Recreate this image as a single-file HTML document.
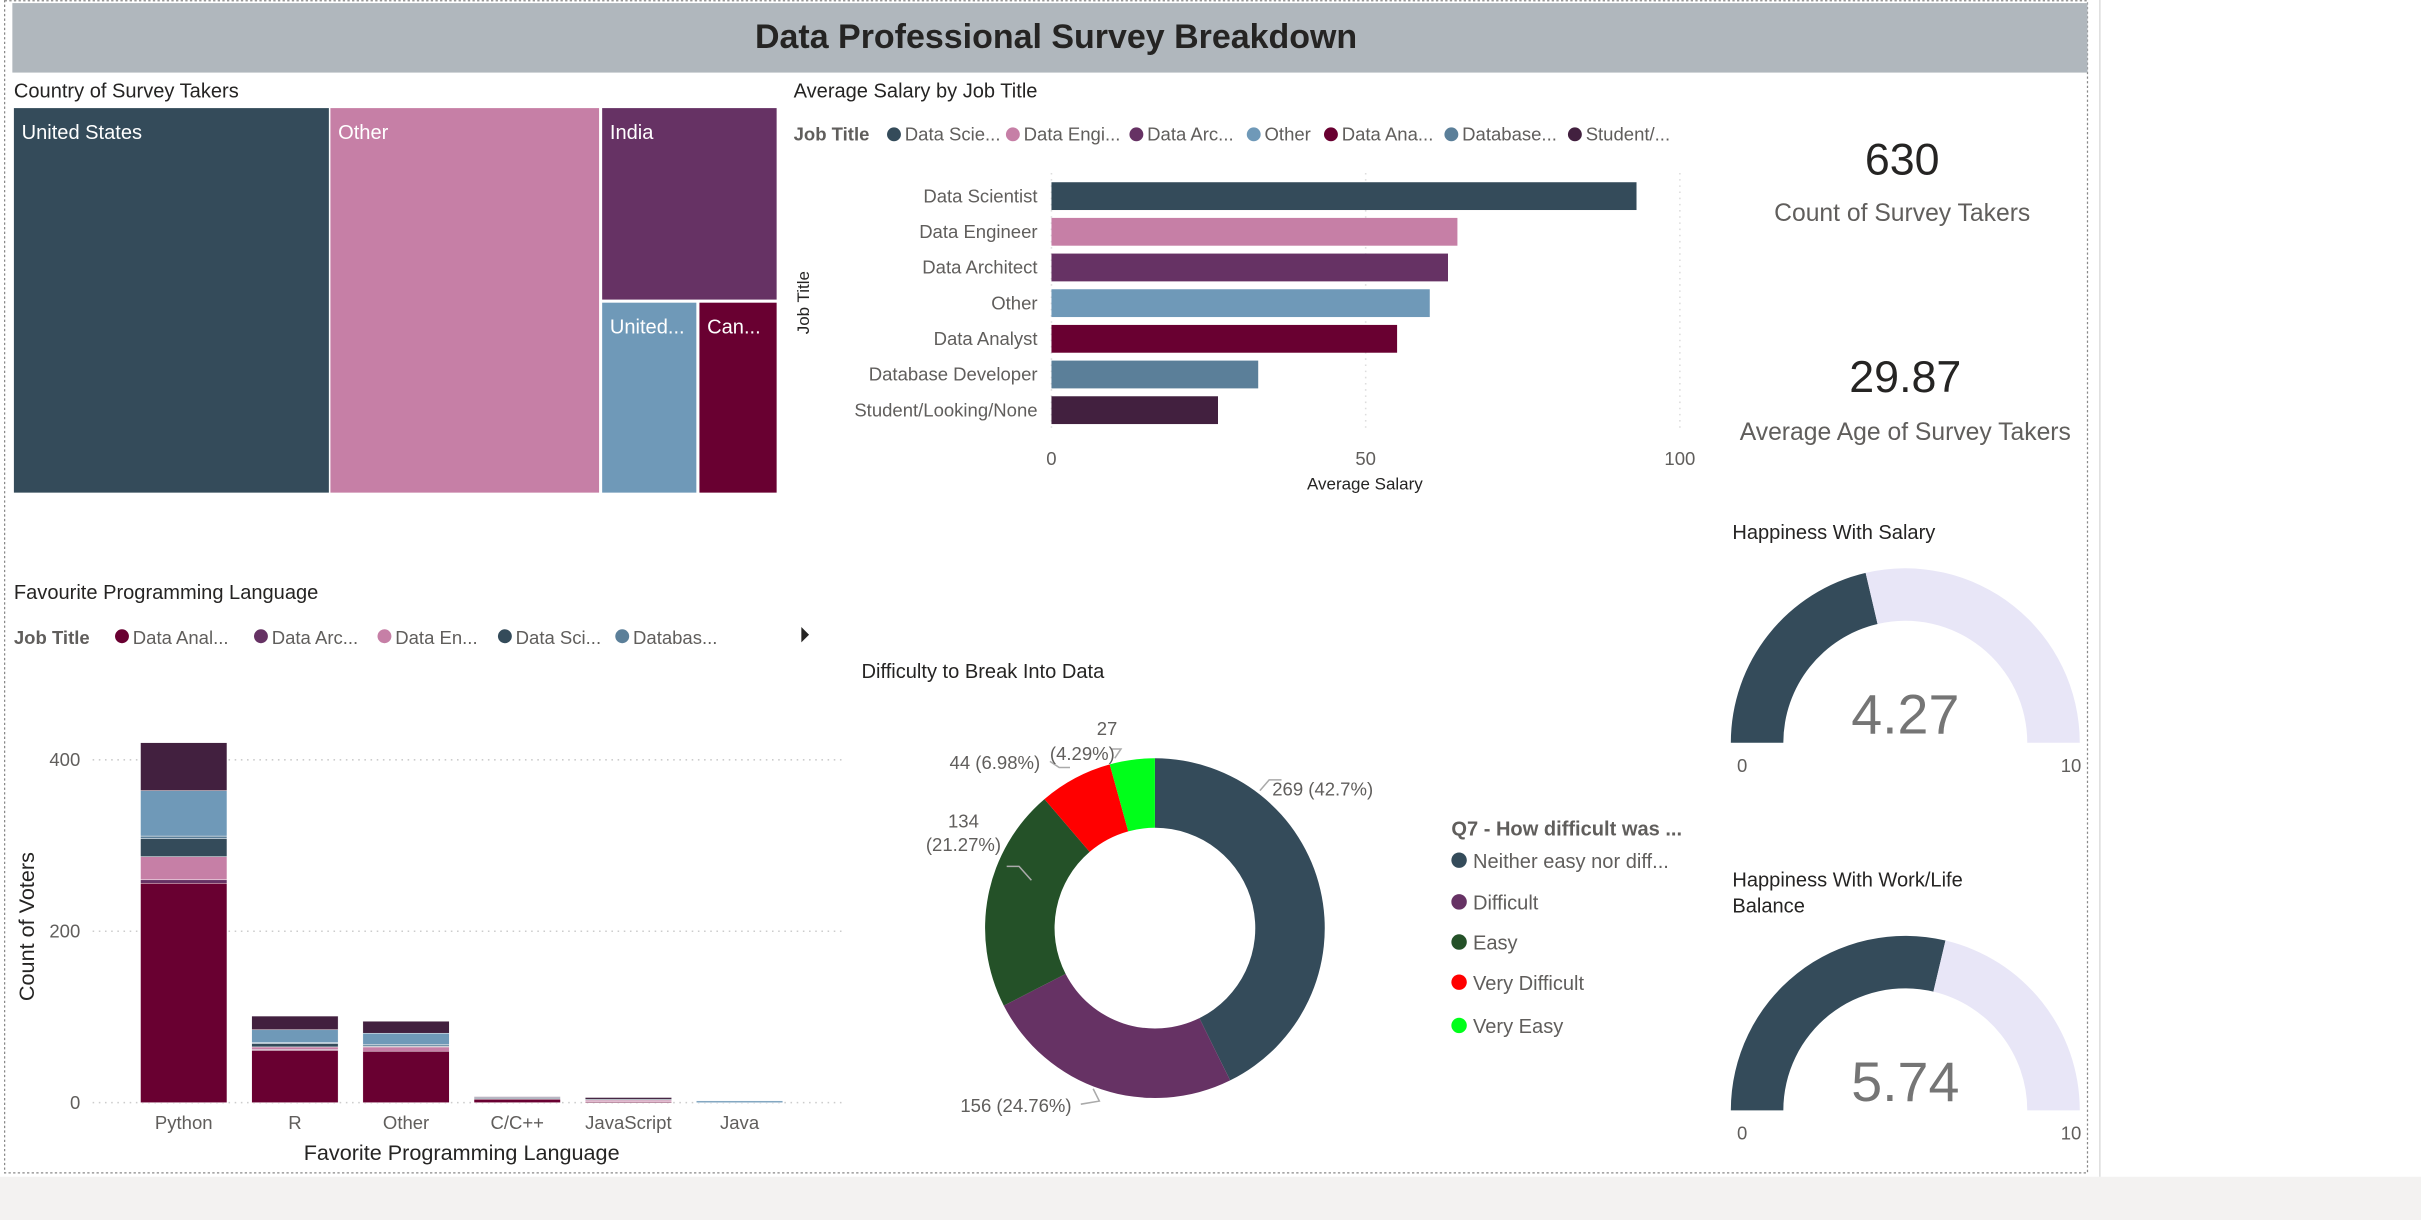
<!DOCTYPE html>
<html><head><meta charset="utf-8"><style>
html,body{margin:0;padding:0;background:#fff;width:2421px;height:1220px;overflow:hidden}
svg{display:block;font-family:"Liberation Sans",sans-serif}
</style></head><body>
<svg id="root" width="2421" height="1220" viewBox="0 0 1568 790" preserveAspectRatio="none" xmlns="http://www.w3.org/2000/svg">
<rect x="0" y="762" width="1568" height="28" fill="#f3f2f1"/>
<rect x="3" y="0.5" width="1349" height="759" fill="none" stroke="#888" stroke-width="0.8" stroke-dasharray="1.5,1.5"/>
<line x1="1360" y1="0" x2="1360" y2="762" stroke="#ddd" stroke-width="1"/>
<rect x="8" y="2" width="1344" height="45" fill="#b0b7bd"/>
<text x="684" y="31" text-anchor="middle" font-size="22" font-weight="bold" fill="#252423">Data Professional Survey Breakdown</text>

<text x="9" y="63" font-size="13" fill="#252423">Country of Survey Takers</text>
<g id="treemap"></g>

<text x="514" y="63" font-size="13" fill="#252423">Average Salary by Job Title</text>
<g id="salary"></g>

<g>
<text x="1232" y="113" text-anchor="middle" font-size="29" fill="#252423">630</text>
<text x="1232" y="143" text-anchor="middle" font-size="16" fill="#605e5c">Count of Survey Takers</text>
</g>
<g>
<text x="1234" y="254" text-anchor="middle" font-size="29" fill="#252423">29.87</text>
<text x="1234" y="285" text-anchor="middle" font-size="16" fill="#605e5c">Average Age of Survey Takers</text>
</g>

<text x="1122" y="349" font-size="13" fill="#252423">Happiness With Salary</text>
<g id="g1"></g>
<text x="1122" y="574" font-size="13" fill="#252423"><tspan x="1122">Happiness With Work/Life</tspan><tspan x="1122" dy="17">Balance</tspan></text>
<g id="g2"></g>

<text x="9" y="388" font-size="13" fill="#252423">Favourite Programming Language</text>
<g id="lang"></g>

<text x="558" y="439" font-size="13" fill="#252423">Difficulty to Break Into Data</text>
<g id="donut"></g>
</svg>
<script>
// ---- data ----
const countries=["United States","Other","India","United...","Can..."];
const salaryJobs=["Data Scientist","Data Engineer","Data Architect","Other","Data Analyst","Database Developer","Student/Looking/None"];
const salaryValues=[93.1,64.6,63.1,60.2,55.0,32.9,26.5];
const salaryTicks=[0,50,100];
const langCats=["Python","R","Other","C/C++","JavaScript","Java"];
const langSeries=["Data Analyst","Data Architect","Data Engineer","Data Scientist","Database Developer","Other","Student/Looking/None"];
const langAnalyst=[256,61,60,4,1,0];
const langArchitect=[4,1,0,0,0,0];
const langEngineer=[27,3,5,0,2,0];
const langScientist=[21,4,1,1,1,0];
const langDbDev=[3,1,2,0,0,0];
const langOther=[53,15,13,1,0,2];
const langStudent=[56,16,14,1,2,0];
const langTicks=[0,200,400];
const diffLabels=["Neither easy nor difficult","Difficult","Easy","Very Difficult","Very Easy"];
const diffValues=[269,156,134,44,27];
const gaugeValues=[4.27,5.74];

const NS="http://www.w3.org/2000/svg";
function mk(p,tag,at,txt){const e=document.createElementNS(NS,tag);for(const k in at)e.setAttribute(k,at[k]);if(txt!=null)e.textContent=txt;p.appendChild(e);return e;}
const jobColors={"Data Scientist":"#344b5a","Data Engineer":"#c67fa6","Data Architect":"#663264","Other":"#6f99b8","Data Analyst":"#690031","Database Developer":"#5b7f99","Student/Looking/None":"#42203f"};

// ---- treemap (fixed layout rectangles) ----
(function(){
 const g=document.getElementById('treemap');
 const rects=[[9,70,204,249,"#344b5a"],[214,70,174,249,"#c67fa6"],[390,70,113,124,"#663264"],[390,196,61,123,"#6f99b8"],[453,196,50,123,"#690031"]];
 rects.forEach((r,i)=>{
  const e=mk(g,'rect',{x:r[0],y:r[1],width:r[2],height:r[3],fill:r[4]});
  
  
  const t=mk(g,'text',{x:r[0]+5,y:r[1]+20,'font-size':13,fill:'#fff'},countries[i]);
  
  
 });
})();

// ---- salary bar chart ----
(function(){
 const g=document.getElementById('salary');
 const x0=681,x1=1088,xs=v=>x0+(v-0)/(100-0)*(x1-x0);
 const legend=[["Data Scie...","Data Scientist"],["Data Engi...","Data Engineer"],["Data Arc...","Data Architect"],["Other","Other"],["Data Ana...","Data Analyst"],["Database...","Database Developer"],["Student/...","Student/Looking/None"]];
 const lt=mk(g,'text',{x:514,y:91,'font-size':12,'font-weight':'bold',fill:'#605e5c'},'Job Title');
 
 
 let lx=575;
 const widths=[77,80,76,50,78,80,70];
 legend.forEach((l,i)=>{
  const c=mk(g,'circle',{cx:lx+4,cy:87,r:4.5,fill:jobColors[l[1]]});
  
  
  const t=mk(g,'text',{x:lx+11,y:91,'font-size':12,fill:'#605e5c'},l[0]);
  
  
  lx+=widths[i];
 });
 salaryTicks.forEach(v=>{
  const ln=mk(g,'line',{x1:xs(v),x2:xs(v),y1:112,y2:280,stroke:'#ddd','stroke-dasharray':'1,3'});
  
  
  const t=mk(g,'text',{x:xs(v),y:301,'text-anchor':'middle','font-size':12,fill:'#605e5c'},String(v));
  
  
 });
 salaryJobs.forEach((j,i)=>{
  const cy=127+i*23.1;
  const b=mk(g,'rect',{x:x0,y:cy-9,width:xs(salaryValues[i])-x0,height:18,fill:jobColors[j]});
  
  
  const t=mk(g,'text',{x:672,y:cy+4,'text-anchor':'end','font-size':12,fill:'#605e5c'},j);
  
  
 });
 const xt=mk(g,'text',{x:884,y:317,'text-anchor':'middle','font-size':11,fill:'#252423'},'Average Salary');
 
 
 const yt=mk(g,'text',{x:0,y:0,'font-size':11,fill:'#252423','text-anchor':'middle',transform:'translate(524,196) rotate(-90)'},'Job Title');
 
 
})();

// ---- gauges ----
function gauge(id,val,cy){
 const g=document.getElementById(id);
 const cx=1234,R=113,r=79;
 function arc(a0,a1,col,nm){
  const p=(rad,a)=>[cx-rad*Math.cos(a),cy-rad*Math.sin(a)];
  const A=p(R,a0),B=p(R,a1),C=p(r,a1),D=p(r,a0);
  const e=mk(g,'path',{d:`M${A}A${R},${R} 0 0 1 ${B}L${C}A${r},${r} 0 0 0 ${D}Z`,fill:col});
  
  
 }
 const a=val/10*Math.PI;
 arc(0,a,'#344b5a','gauge-value-arc');
 arc(a,Math.PI,'#e8e6f7','gauge-remaining-arc');
 const t=mk(g,'text',{x:cx,y:cy-6,'text-anchor':'middle','font-size':36,fill:'#757575'},val.toFixed(2));
 
 
 const t0=mk(g,'text',{x:1125,y:cy+19,'font-size':12,fill:'#605e5c'},'0');
 
 
 const t1=mk(g,'text',{x:1348,y:cy+19,'text-anchor':'end','font-size':12,fill:'#605e5c'},'10');
 
 
}
gauge('g1',gaugeValues[0],481);
gauge('g2',gaugeValues[1],719);

// ---- language stacked chart ----
(function(){
 const g=document.getElementById('lang');
 const y0=714,ys=v=>y0-v*0.555;
 const legend=[["Data Anal...","Data Analyst"],["Data Arc...","Data Architect"],["Data En...","Data Engineer"],["Data Sci...","Data Scientist"],["Databas...","Database Developer"]];
 const lt=mk(g,'text',{x:9,y:417,'font-size':12,'font-weight':'bold',fill:'#605e5c'},'Job Title');
 
 
 let lx=74;const w=[90,80,78,76,80];
 legend.forEach((l,i)=>{
  const c=mk(g,'circle',{cx:lx+5,cy:412,r:4.5,fill:jobColors[l[1]]});
  
  
  const t=mk(g,'text',{x:lx+12,y:417,'font-size':12,fill:'#605e5c'},l[0]);
  
  
  lx+=w[i];
 });
 const ar=mk(g,'path',{d:'M519,406 L524,411 L519,416 Z',fill:'#252423'});
 
 
 langTicks.forEach(v=>{
  const ln=mk(g,'line',{x1:60,x2:545,y1:ys(v),y2:ys(v),stroke:'#ccc','stroke-dasharray':'1,3'});
  
  
  const t=mk(g,'text',{x:52,y:ys(v)+4,'text-anchor':'end','font-size':12,fill:'#605e5c'},String(v));
  
  
 });
 const series=[langAnalyst,langArchitect,langEngineer,langScientist,langDbDev,langOther,langStudent];
 langCats.forEach((c,i)=>{
  const cx=119+i*72;let acc=0;
  series.forEach((s,k)=>{
   const v=s[i];if(!v)return;
   const r=mk(g,'rect',{x:cx-28,y:ys(acc+v),width:56,height:ys(acc)-ys(acc+v),fill:jobColors[langSeries[k]],stroke:'#fff','stroke-width':0.3});
   
   
   acc+=v;
  });
  const t=mk(g,'text',{x:cx,y:731,'text-anchor':'middle','font-size':12,fill:'#605e5c'},c);
  
  
 });
 const xt=mk(g,'text',{x:299,y:751,'text-anchor':'middle','font-size':14,fill:'#252423'},'Favorite Programming Language');
 
 
 const yt=mk(g,'text',{x:0,y:0,'font-size':14,fill:'#252423','text-anchor':'middle',transform:'translate(22,600) rotate(-90)'},'Count of Voters');
 
 
})();

// ---- donut ----
(function(){
 const g=document.getElementById('donut');
 const cx=748,cy=601,R=110,r=65;
 const cols=["#344b5a","#663264","#245128","#ff0000","#00ff1a"];
 const tot=diffValues.reduce((a,b)=>a+b,0);
 let a=0;
 const P=(rad,ang)=>[cx+rad*Math.sin(ang),cy-rad*Math.cos(ang)];
 diffValues.forEach((v,i)=>{
  const a1=a+v/tot*2*Math.PI;const lg=(a1-a)>Math.PI?1:0;
  const A=P(R,a),B=P(R,a1),C=P(r,a1),D=P(r,a);
  const e=mk(g,'path',{d:`M${A}A${R},${R} 0 ${lg} 1 ${B}L${C}A${r},${r} 0 ${lg} 0 ${D}Z`,fill:cols[i]});
  
  
  a=a1;
 });
 const labels=[
  [[824,515],"269 (42.7%)",'start',[[816,512],[822,505],[830,505]]],
  [[622,720],"156 (24.76%)",'start',[[708,705],[712,713],[700,715]]],
  [[624,536],"134",'middle',[[668,570],[660,561],[652,561]]],
  [[624,551],"(21.27%)",'middle',null],
  [[615,498],"44 (6.98%)",'start',[[693,497],[686,497],[680,493]]],
  [[717,476],"27",'middle',[[722,491],[726,485],[720,485]]],
  [[701,492],"(4.29%)",'middle',null]];
 labels.forEach(l=>{
  const t=mk(g,'text',{x:l[0][0],y:l[0][1],'text-anchor':l[2],'font-size':12,fill:'#605e5c'},l[1]);
  
  
  if(l[3]){const pl=mk(g,'polyline',{points:l[3].map(p=>p.join(',')).join(' '),fill:'none',stroke:'#aaa','stroke-width':1});
   
   }
 });
 const lt=mk(g,'text',{x:940,y:541,'font-size':13,'font-weight':'bold',fill:'#605e5c'},'Q7 - How difficult was ...');
 
 
 const short=["Neither easy nor diff...","Difficult","Easy","Very Difficult","Very Easy"];
 const ly=[557,584,610,636,664];
 short.forEach((s,i)=>{
  const c=mk(g,'circle',{cx:945,cy:ly[i],r:5,fill:cols[i]});
  
  
  const t=mk(g,'text',{x:954,y:ly[i]+5,'font-size':13,fill:'#605e5c'},s);
  
  
 });
})();
</script>
</body></html>
